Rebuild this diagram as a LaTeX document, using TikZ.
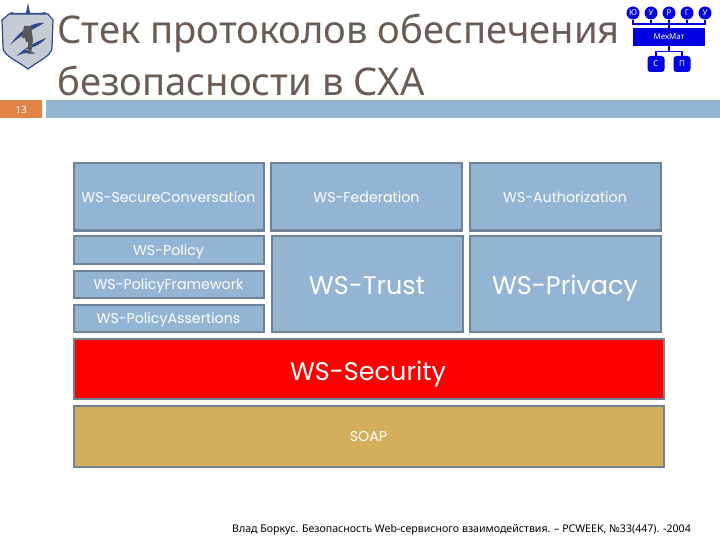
\documentclass[tikz,border=0pt]{standalone}
\usepackage{fontspec}
\setmainfont{Noto Sans}
\newfontfamily\boxfont{Poppins}
\usetikzlibrary{positioning}
\definecolor{TitleGray}{HTML}{6B5B53}
\definecolor{BoxBlue}{HTML}{94B4D3}
\definecolor{BoxEdge}{HTML}{6F8296}
\definecolor{SlideOrange}{HTML}{DF8244}
\definecolor{SoapGold}{HTML}{D4AE5A}
\definecolor{MatBlue}{HTML}{0000E0}
\definecolor{ShieldBlue}{HTML}{2A4A8C}
\definecolor{ShieldGray}{HTML}{C4CBD2}

\tikzset{
  wsbox/.style={draw=BoxEdge, line width=2pt, fill=BoxBlue, text=white, inner sep=0pt, font=\boxfont\fontsize{14.2}{16}\selectfont, text height=12.8pt, text depth=1.7pt},
  wsbig/.style={wsbox, font=\boxfont\fontsize{25.5}{28}\selectfont, text height=23pt, text depth=3pt},
  matcirc/.style={circle, fill=MatBlue, text=white, minimum size=13pt, inner sep=0pt, font=\bfseries\fontsize{8}{9}\selectfont},
  matcyl/.style={rounded corners=3pt, fill=MatBlue, text=white, minimum width=17pt, minimum height=16pt, inner sep=0pt, font=\bfseries\fontsize{8}{9}\selectfont},
  matline/.style={MatBlue, line width=1.1pt}
}

\begin{document}
\begin{tikzpicture}[x=1pt, y=-1pt]
  \useasboundingbox (0,0) rectangle (720,540);
  % slide header
  \node[text=TitleGray, align=left, anchor=north west, inner sep=0pt, font=\fontsize{38.2}{52}\selectfont] (title) at (57,14)
    {Стек протоколов обеспечения\\безопасности в СХА};
  \fill[SlideOrange] (0,100) rectangle (42,118);
  \fill[BoxBlue] (46,100) rectangle (720,118);
  \node[text=white, font=\bfseries\fontsize{10}{11}\selectfont] (pagenum) at (21,109.5) {13};

  % shield
  \fill[ShieldBlue] (26,13) -- (27,8) -- (28,3) -- (29,8) -- (30,13) -- (41,13) -- (45,12) -- (47,15) -- (9,15) -- (11,12) -- (15,13) -- cycle;
  \draw[ShieldBlue, line width=1.2pt, fill=ShieldGray] (2,20) -- (9,14) -- (48,14) -- (53,20)
    -- (52,48) .. controls (51,56) and (40,60) .. (28,69) .. controls (16,60) and (4,56) .. (3,48) -- cycle;
  \fill[ShieldBlue] (10,45) .. controls (22,28) and (34,22) .. (44,23) .. controls (36,28) and (22,34) .. (10,45) -- cycle;
  \fill[ShieldBlue] (17,56) .. controls (24,48) and (36,42) .. (46,38) .. controls (40,46) and (30,48) .. (24,50) .. controls (30,50) and (33,52) .. (35,54) .. controls (28,52) and (22,53) .. (17,56) -- cycle;
  \fill[black!65] (24,26) -- (31,26) -- (33,40) -- (31,54) -- (28,54) -- (28,42) -- (26,42) -- (25,38) -- (22,38) -- cycle;

  % mexmat logo
  \node[matcirc] (yu) at (633,13) {Ю};
  \node[matcirc] (u1) at (651,13) {У};
  \node[matcirc] (ru) at (669,13) {Р};
  \node[matcirc] (gu) at (687,13) {Г};
  \node[matcirc] (u2) at (705,13) {У};
  \node[fill=MatBlue, text=white, minimum width=72pt, minimum height=18pt, inner sep=0pt, font=\bfseries\fontsize{8}{9}\selectfont] (mexmat) at (669,37) {МехМат};
  \node[matcyl] (sm) at (656,64) {С};
  \node[matcyl] (pm) at (682,64) {П};
  \coordinate (busup) at (669,24);
  \coordinate (busdown) at (669,51.5);
  \foreach \n in {yu,u1,ru,gu,u2}
    \draw[matline] (\n.south) |- (busup);
  \draw[matline] (busup) -- (mexmat.north);
  \draw[matline] (mexmat.south) -- (busdown);
  \draw[matline] (sm.north) |- (busdown);
  \draw[matline] (pm.north) |- (busdown);

  % protocol stack
  \node[wsbox, minimum width=190pt, minimum height=67pt] (secconv) at (168.5,197) {WS-SecureConversation};
  \node[wsbox, minimum width=191pt, minimum height=67pt] (federation) at (366.5,197) {WS-Federation};
  \node[wsbox, minimum width=191pt, minimum height=67pt] (authz) at (565,197) {WS-Authorization};
  \node[wsbox, minimum width=190pt, minimum height=28pt] (policy) at (168.5,249.5) {WS-Policy};
  \node[wsbox, minimum width=190pt, minimum height=27pt] (framework) at (168.5,284) {WS-PolicyFramework};
  \node[wsbox, minimum width=190pt, minimum height=27pt] (assertions) at (168.5,318) {WS-PolicyAssertions};
  \node[wsbig, minimum width=191pt, minimum height=96pt] (trust) at (367,284) {WS-Trust};
  \node[wsbig, minimum width=191pt, minimum height=96pt] (privacy) at (565,284) {WS-Privacy};
  \node[wsbig, fill=red, minimum width=590pt, minimum height=60pt] (security) at (368.5,368.5) {};
  \node[text=white, font=\boxfont\fontsize{25.5}{28}\selectfont, text height=23pt, text depth=3pt, inner sep=0pt] (securitytext) at (368,370) {WS-Security};
  \node[wsbox, fill=SoapGold, minimum width=590pt, minimum height=61pt] (soap) at (368.5,436) {SOAP};

  % source
  \node[text=black, font=\fontsize{10.6}{12}\selectfont] (source) at (461.5,530) {Влад Боркус. Безопасность Web-сервисного взаимодействия. – PCWEEK, №33(447). -2004};
\end{tikzpicture}
\end{document}
